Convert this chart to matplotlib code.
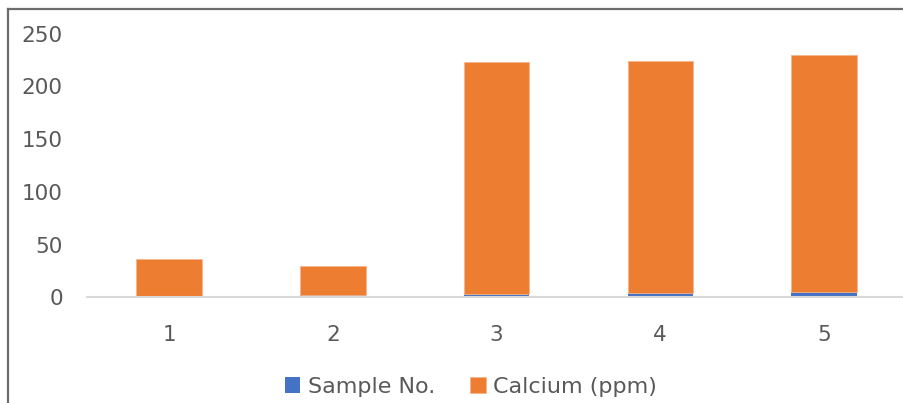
import matplotlib.pyplot as plt
from matplotlib.lines import Line2D
import numpy as np

samples = ['1', '2', '3', '4', '5']
sample_no = [1, 2, 3, 4, 5]
calcium = [35.3, 28.0, 219.9, 220.4, 224.5]

blue = '#4472C4'
orange = '#ED7D31'
txt = '#595959'

fig = plt.figure(figsize=(9.04, 4.03), dpi=100)
ax = fig.add_axes([0.0964, 0.2623, 0.9057, 0.654])

x = np.arange(len(samples))
ax.bar(x, sample_no, width=0.4, color=blue, label='Sample No.')
ax.bar(x, calcium, width=0.4, bottom=sample_no, color=orange,
       label='Calcium (ppm)', edgecolor='#f6b48c', linewidth=0.6)

ax.set_xlim(-0.5, 4.5)
ax.set_ylim(0, 250)
ax.set_yticks([0, 50, 100, 150, 200, 250])
ax.set_xticks(x)
ax.set_xticklabels(samples)

for s in ['top', 'right', 'left']:
    ax.spines[s].set_visible(False)
ax.spines['bottom'].set_color('#d9d9d9')
ax.spines['bottom'].set_linewidth(1.5)
ax.tick_params(axis='both', length=0, labelsize=15.5, labelcolor=txt)
ax.tick_params(axis='y', pad=17.5)
ax.tick_params(axis='x', pad=20)

# chart frame (left and top edges only, the rest is cut off)
fig.add_artist(Line2D([0.0088, 0.0088], [0.0, 0.978], color='#6d6d6d', lw=1.6,
                      transform=fig.transFigure))
fig.add_artist(Line2D([0.0088, 1.0], [0.978, 0.978], color='#6d6d6d', lw=1.6,
                      transform=fig.transFigure))

fig.legend(loc='center', bbox_to_anchor=(0.521, 0.04), ncol=2, frameon=False,
           fontsize=16, labelcolor=txt, handlelength=0.68, handleheight=0.68,
           handletextpad=0.35, columnspacing=1.6)

fig.savefig('out.png', dpi=100)
